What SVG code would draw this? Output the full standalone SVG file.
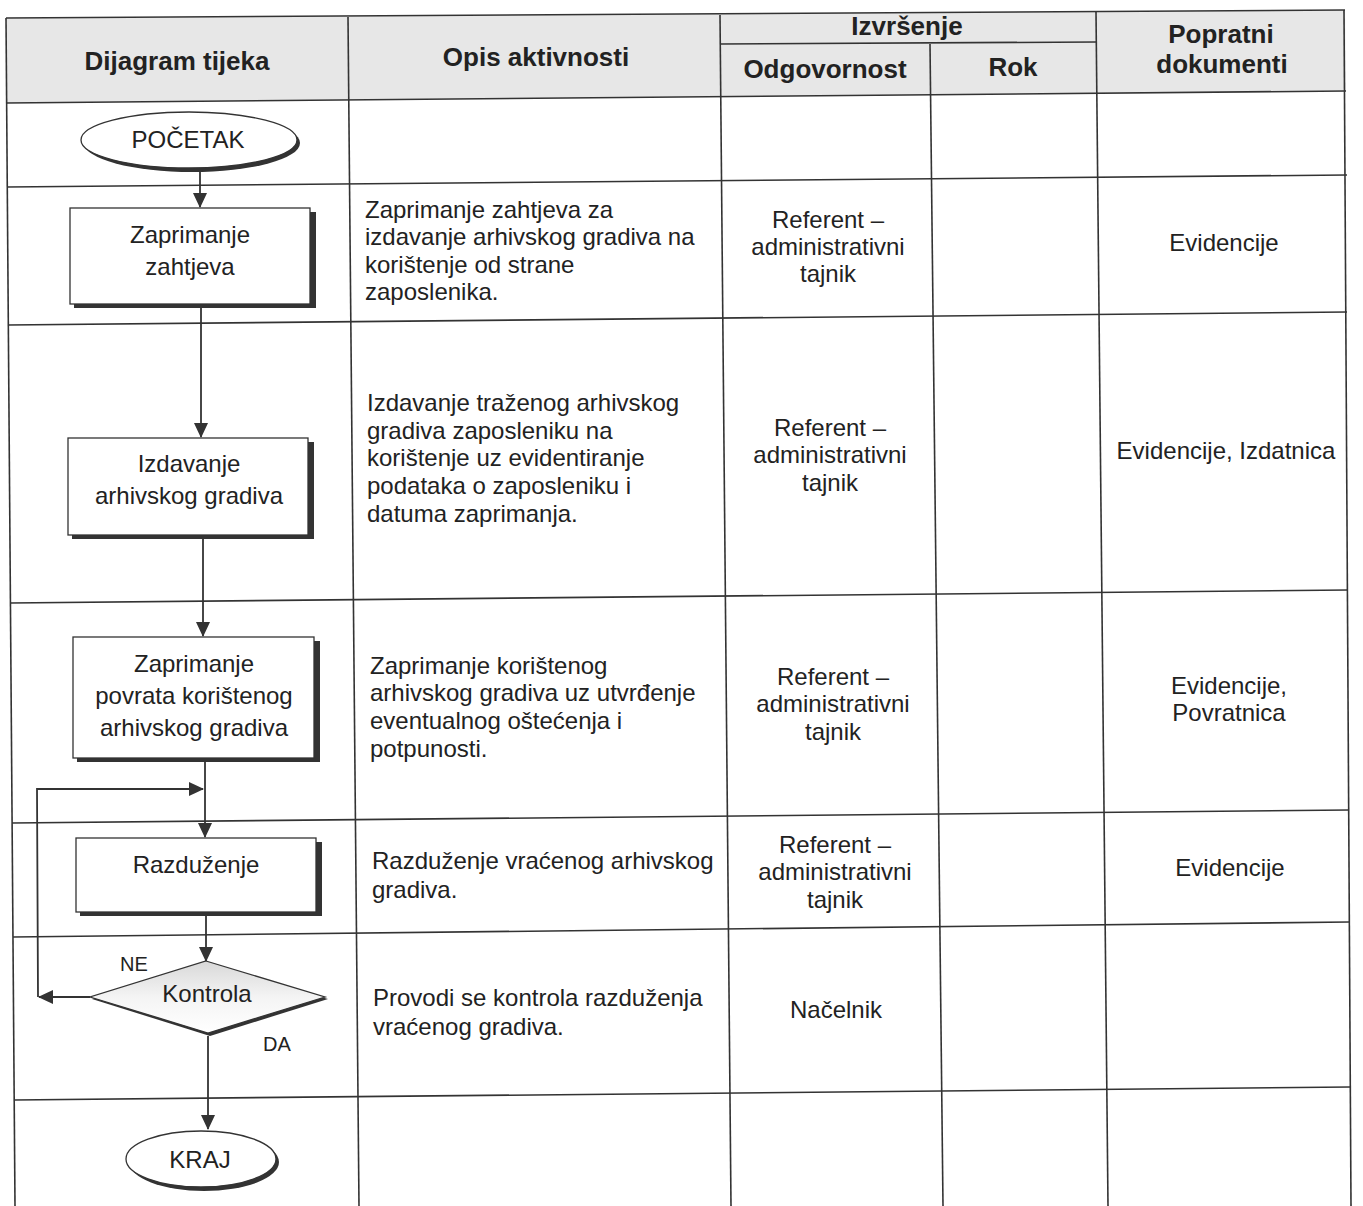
<svg xmlns="http://www.w3.org/2000/svg" width="1363" height="1206" viewBox="0 0 1363 1206">
<defs>
<marker id="ah" markerWidth="15" markerHeight="14" refX="14" refY="7" orient="auto" markerUnits="userSpaceOnUse">
<path d="M0,0 L15,7 L0,14 Z" fill="#333"/>
</marker>
<linearGradient id="dg" x1="0" y1="0" x2="0" y2="1">
<stop offset="0" stop-color="#d8d8d8"/>
<stop offset="0.5" stop-color="#f4f4f4"/>
<stop offset="1" stop-color="#ffffff"/>
</linearGradient>
</defs>
<style>
.grid{stroke:#333;stroke-width:1.6;fill:none}
.hd{font-family:"Liberation Sans",Arial,sans-serif;font-weight:bold;font-size:26px;fill:#222;text-anchor:middle}
.tx{font-family:"Liberation Sans",Arial,sans-serif;font-size:24px;fill:#222}
.c{text-anchor:middle}
.box{fill:#fff;stroke:#333;stroke-width:1.3}
.sh{fill:#333}
.con{stroke:#333;stroke-width:1.8;fill:none}
.lbl{font-family:"Liberation Sans",Arial,sans-serif;font-size:20px;fill:#222}
</style>
<rect width="1363" height="1206" fill="#fff"/>
<g id="table">
<polygon points="6,18 1345,10 1346,91 6,103" fill="#e7e7e7"/>
<line class="grid" x1="6" y1="18" x2="1345" y2="10"/>
<line class="grid" x1="6" y1="18" x2="15" y2="1206"/>
<line class="grid" x1="348" y1="17" x2="359" y2="1206"/>
<line class="grid" x1="720" y1="15" x2="731" y2="1206"/>
<line class="grid" x1="930" y1="44" x2="943" y2="1206"/>
<line class="grid" x1="1096" y1="12" x2="1108" y2="1206"/>
<line class="grid" x1="1344" y1="10" x2="1351" y2="1206"/>
<line class="grid" x1="720" y1="44" x2="1096" y2="42"/>
<line class="grid" x1="6" y1="103" x2="1346" y2="91"/>
<line class="grid" x1="7" y1="187" x2="1347" y2="175"/>
<line class="grid" x1="8" y1="325" x2="1347" y2="312"/>
<line class="grid" x1="10" y1="603" x2="1348" y2="590"/>
<line class="grid" x1="12" y1="823" x2="1349" y2="810"/>
<line class="grid" x1="13" y1="937" x2="1349" y2="922"/>
<line class="grid" x1="14" y1="1100" x2="1350" y2="1087"/>
</g>
<g id="headers">
<text class="hd" x="177" y="70">Dijagram tijeka</text>
<text class="hd" x="536" y="66">Opis aktivnosti</text>
<text class="hd" x="907" y="35">Izvršenje</text>
<text class="hd" x="825" y="78">Odgovornost</text>
<text class="hd" x="1013" y="76">Rok</text>
<text class="hd" x="1221" y="43">Popratni</text>
<text class="hd" x="1222" y="73">dokumenti</text>
</g>
<g id="connectors">
<line class="con" x1="200" y1="170" x2="200" y2="207" marker-end="url(#ah)"/>
<line class="con" x1="201" y1="308" x2="201" y2="437" marker-end="url(#ah)"/>
<line class="con" x1="203" y1="538" x2="203" y2="636" marker-end="url(#ah)"/>
<line class="con" x1="205" y1="762" x2="205" y2="837" marker-end="url(#ah)"/>
<line class="con" x1="206" y1="916" x2="206" y2="961" marker-end="url(#ah)"/>
<line class="con" x1="90" y1="997" x2="39" y2="997" marker-end="url(#ah)"/>
<polyline class="con" points="38,997 37,789 203,789" marker-end="url(#ah)"/>
<line class="con" x1="208" y1="1036" x2="208" y2="1129" marker-end="url(#ah)"/>
</g>
<g id="n_start">
<ellipse cx="192" cy="143" rx="108" ry="29" class="sh"/>
<ellipse cx="189" cy="140" rx="108" ry="28" class="box"/>
<text class="tx c" x="188" y="148">POČETAK</text>
</g>
<g id="n_zahtjev">
<rect x="74" y="212" width="242" height="96" class="sh"/>
<rect x="70" y="208" width="240" height="96" class="box"/>
<text class="tx c" x="190" y="243">Zaprimanje</text>
<text class="tx c" x="190" y="275">zahtjeva</text>
</g>
<g id="n_izdavanje">
<rect x="72" y="442" width="242" height="97" class="sh"/>
<rect x="68" y="438" width="240" height="97" class="box"/>
<text class="tx c" x="189" y="472">Izdavanje</text>
<text class="tx c" x="189" y="504">arhivskog gradiva</text>
</g>
<g id="n_povrat">
<rect x="77" y="641" width="243" height="121" class="sh"/>
<rect x="73" y="637" width="241" height="121" class="box"/>
<text class="tx c" x="194" y="672">Zaprimanje</text>
<text class="tx c" x="194" y="704">povrata korištenog</text>
<text class="tx c" x="194" y="736">arhivskog gradiva</text>
</g>
<g id="n_razduzenje">
<rect x="80" y="842" width="242" height="74" class="sh"/>
<rect x="76" y="838" width="240" height="74" class="box"/>
<text class="tx c" x="196" y="873">Razduženje</text>
</g>
<g id="n_kontrola">
<polygon points="208,964 328,999 210,1036 92,999" class="sh"/>
<polygon points="206,961 325,997 208,1033 90,997" fill="url(#dg)" stroke="#333" stroke-width="1.3"/>
<text class="tx c" x="207" y="1002">Kontrola</text>
<text class="lbl c" x="134" y="971">NE</text>
<text class="lbl c" x="277" y="1051">DA</text>
</g>
<g id="n_kraj">
<ellipse cx="204" cy="1162" rx="75" ry="29" class="sh"/>
<ellipse cx="201" cy="1159" rx="75" ry="28" class="box"/>
<text class="tx c" x="200" y="1168">KRAJ</text>
</g>
<g id="row1">
<text class="tx" x="365" y="218">Zaprimanje zahtjeva za</text>
<text class="tx" x="365" y="245">izdavanje arhivskog gradiva na</text>
<text class="tx" x="365" y="273">korištenje od strane</text>
<text class="tx" x="365" y="300">zaposlenika.</text>
<text class="tx c" x="828" y="228">Referent –</text>
<text class="tx c" x="828" y="255">administrativni</text>
<text class="tx c" x="828" y="282">tajnik</text>
<text class="tx c" x="1224" y="251">Evidencije</text>
</g>
<g id="row2">
<text class="tx" x="367" y="411">Izdavanje traženog arhivskog</text>
<text class="tx" x="367" y="439">gradiva zaposleniku na</text>
<text class="tx" x="367" y="466">korištenje uz evidentiranje</text>
<text class="tx" x="367" y="494">podataka o zaposleniku i</text>
<text class="tx" x="367" y="522">datuma zaprimanja.</text>
<text class="tx c" x="830" y="436">Referent –</text>
<text class="tx c" x="830" y="463">administrativni</text>
<text class="tx c" x="830" y="491">tajnik</text>
<text class="tx c" x="1226" y="459">Evidencije, Izdatnica</text>
</g>
<g id="row3">
<text class="tx" x="370" y="674">Zaprimanje korištenog</text>
<text class="tx" x="370" y="701">arhivskog gradiva uz utvrđenje</text>
<text class="tx" x="370" y="729">eventualnog oštećenja i</text>
<text class="tx" x="370" y="757">potpunosti.</text>
<text class="tx c" x="833" y="685">Referent –</text>
<text class="tx c" x="833" y="712">administrativni</text>
<text class="tx c" x="833" y="740">tajnik</text>
<text class="tx c" x="1229" y="694">Evidencije,</text>
<text class="tx c" x="1229" y="721">Povratnica</text>
</g>
<g id="row4">
<text class="tx" x="372" y="869">Razduženje vraćenog arhivskog</text>
<text class="tx" x="372" y="898">gradiva.</text>
<text class="tx c" x="835" y="853">Referent –</text>
<text class="tx c" x="835" y="880">administrativni</text>
<text class="tx c" x="835" y="908">tajnik</text>
<text class="tx c" x="1230" y="876">Evidencije</text>
</g>
<g id="row5">
<text class="tx" x="373" y="1006">Provodi se kontrola razduženja</text>
<text class="tx" x="373" y="1035">vraćenog gradiva.</text>
<text class="tx c" x="836" y="1018">Načelnik</text>
</g>
</svg>
